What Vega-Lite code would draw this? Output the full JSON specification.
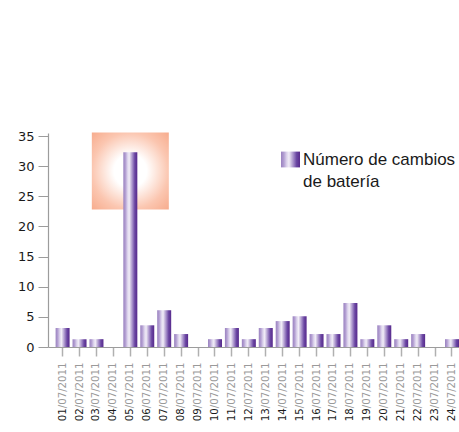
{
  "$schema": "https://vega.github.io/schema/vega-lite/v6.json",
  "width": 411,
  "height": 214,
  "autosize": {"type": "none"},
  "padding": {"left": 48, "top": 133, "right": 0, "bottom": 85},
  "config": {
    "view": {"stroke": null},
    "style": {"guide-label": {"lineHeight": 22}},
    "axisY": {
      "title": null,
      "values": [0, 5, 10, 15, 20, 25, 30, 35],
      "grid": false,
      "tickSize": 10,
      "labelPadding": 4,
      "labelOverlap": false,
      "tickColor": "#9c9c9c",
      "domainColor": "#9c9c9c",
      "domainWidth": 1.2,
      "labelColor": "#1a1a1a",
      "labelFont": "DejaVu Sans",
      "labelFontSize": 13
    }
  },
  "data": {
    "values": [
      {"fecha": "01/07/2011", "valor": 3.15, "serie": "Número de cambios de batería"},
      {"fecha": "02/07/2011", "valor": 1.3, "serie": "Número de cambios de batería"},
      {"fecha": "03/07/2011", "valor": 1.3, "serie": "Número de cambios de batería"},
      {"fecha": "04/07/2011", "valor": 0, "serie": "Número de cambios de batería"},
      {"fecha": "05/07/2011", "valor": 32.3, "serie": "Número de cambios de batería"},
      {"fecha": "06/07/2011", "valor": 3.6, "serie": "Número de cambios de batería"},
      {"fecha": "07/07/2011", "valor": 6.1, "serie": "Número de cambios de batería"},
      {"fecha": "08/07/2011", "valor": 2.15, "serie": "Número de cambios de batería"},
      {"fecha": "09/07/2011", "valor": 0, "serie": "Número de cambios de batería"},
      {"fecha": "10/07/2011", "valor": 1.3, "serie": "Número de cambios de batería"},
      {"fecha": "11/07/2011", "valor": 3.15, "serie": "Número de cambios de batería"},
      {"fecha": "12/07/2011", "valor": 1.3, "serie": "Número de cambios de batería"},
      {"fecha": "13/07/2011", "valor": 3.15, "serie": "Número de cambios de batería"},
      {"fecha": "14/07/2011", "valor": 4.3, "serie": "Número de cambios de batería"},
      {"fecha": "15/07/2011", "valor": 5.1, "serie": "Número de cambios de batería"},
      {"fecha": "16/07/2011", "valor": 2.15, "serie": "Número de cambios de batería"},
      {"fecha": "17/07/2011", "valor": 2.15, "serie": "Número de cambios de batería"},
      {"fecha": "18/07/2011", "valor": 7.3, "serie": "Número de cambios de batería"},
      {"fecha": "19/07/2011", "valor": 1.3, "serie": "Número de cambios de batería"},
      {"fecha": "20/07/2011", "valor": 3.6, "serie": "Número de cambios de batería"},
      {"fecha": "21/07/2011", "valor": 1.3, "serie": "Número de cambios de batería"},
      {"fecha": "22/07/2011", "valor": 2.15, "serie": "Número de cambios de batería"},
      {"fecha": "23/07/2011", "valor": 0, "serie": "Número de cambios de batería"},
      {"fecha": "24/07/2011", "valor": 1.3, "serie": "Número de cambios de batería"}
    ]
  },
  "layer": [
    {
      "data": {"values": [{"fecha": "05/07/2011", "desde": 22.8, "hasta": 35.6}]},
      "mark": {
        "type": "bar",
        "width": 77,
        "fill": {
          "gradient": "radial",
          "x1": 0.5, "y1": 0.5, "r1": 0,
          "x2": 0.5, "y2": 0.5, "r2": 0.71,
          "stops": [
            {"offset": 0, "color": "#ffffff"},
            {"offset": 0.3, "color": "#ffffff"},
            {"offset": 0.7, "color": "#fbc6b0"},
            {"offset": 1, "color": "#f7ab8c"}
          ]
        }
      },
      "encoding": {
        "x": {"field": "fecha", "type": "ordinal", "axis": null},
        "y": {"field": "desde", "type": "quantitative", "scale": {"domain": [0, 35.5], "nice": false}},
        "y2": {"field": "hasta"}
      }
    },
    {
      "mark": {
        "type": "bar",
        "fill": {
          "gradient": "linear",
          "x1": 0, "y1": 0, "x2": 1, "y2": 0,
          "stops": [
            {"offset": 0, "color": "#9a82c0"},
            {"offset": 0.15, "color": "#b39fd2"},
            {"offset": 0.3, "color": "#dcd3ec"},
            {"offset": 0.42, "color": "#f1edf7"},
            {"offset": 0.55, "color": "#c5b6dc"},
            {"offset": 0.68, "color": "#9a80c2"},
            {"offset": 0.82, "color": "#6a46a2"},
            {"offset": 1, "color": "#57298c"}
          ]
        }
      },
      "encoding": {
        "x": {
          "field": "fecha",
          "type": "ordinal",
          "scale": {"paddingInner": 0.173, "paddingOuter": 0.2245, "align": 1},
          "axis": {
            "orient": "bottom",
            "title": null,
            "labelAngle": -90,
            "labelAlign": "right",
            "labelBaseline": "middle",
            "labelExpr": "slice(datum.label, 2)",
            "labelColor": "#9a9a9a",
            "labelFont": "DejaVu Sans",
            "labelFontSize": 10.2,
            "labelPadding": 6,
            "tickSize": 9,
            "tickWidth": 1.5,
            "tickColor": "#b0b0b0",
            "domainColor": "#9c9c9c",
            "domainWidth": 1.2
          }
        },
        "y": {
          "field": "valor",
          "type": "quantitative",
          "scale": {"domain": [0, 35.5], "nice": false}
        },
        "opacity": {
          "field": "serie",
          "type": "ordinal",
          "scale": {"range": [1, 1]},
          "legend": {
            "orient": "none",
            "legendX": 234,
            "legendY": 18,
            "title": null,
            "symbolType": "M-1.2,-1H1.2V1H-1.2Z",
            "symbolSize": 250,
            "symbolStrokeWidth": 0,
            "symbolOpacity": 1,
            "labelExpr": "['Número de cambios', 'de batería']",
            "labelFont": "Liberation Sans",
            "labelFontSize": 17,
            "labelColor": "#1a1a1a",
            "labelOffset": 4,
            "labelLimit": 300
          }
        }
      }
    },
    {
      "mark": {"type": "bar", "opacity": 0},
      "encoding": {
        "x": {
          "field": "fecha",
          "type": "ordinal",
          "axis": {
            "orient": "bottom",
            "title": null,
            "labelAngle": -90,
            "labelAlign": "right",
            "labelBaseline": "middle",
            "labelExpr": "slice(datum.label, 0, 2)",
            "labelColor": "#1a1a1a",
            "labelFont": "DejaVu Sans",
            "labelFontSize": 10.2,
            "labelPadding": 51.8,
            "tickSize": 9,
            "tickOpacity": 0,
            "domain": false
          }
        },
        "y": {"field": "valor", "type": "quantitative", "scale": {"domain": [0, 35.5], "nice": false}}
      }
    }
  ],
  "resolve": {"scale": {"x": "shared"}, "axis": {"x": "independent"}}
}
